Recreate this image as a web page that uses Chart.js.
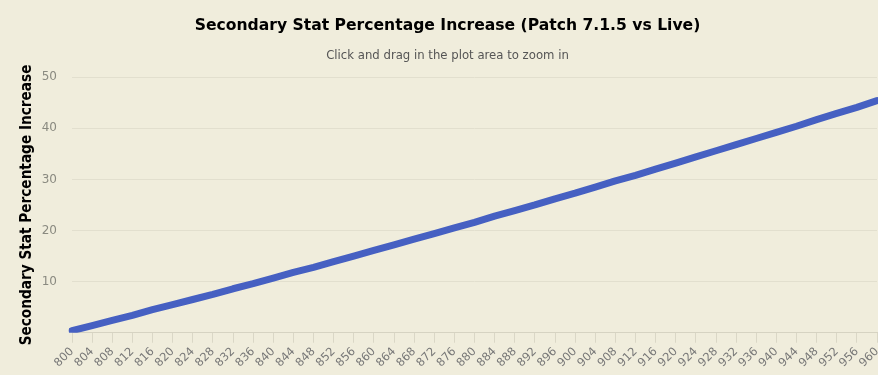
<!DOCTYPE html>
<html>
<head>
<meta charset="utf-8">
<script src="https://cdn.jsdelivr.net/npm/chart.js@4/dist/chart.umd.min.js"></script>
<style>
html,body{margin:0;padding:0;background:#f0eddc;}
#wrap{width:878px;height:375px;position:relative;}
</style>
</head>
<body>
<div id="wrap"><canvas id="c" width="878" height="375"></canvas></div>
<script>
// Item level categories (x axis tick labels)
const itemLevels = [800,804,808,812,816,820,824,828,832,836,840,844,848,852,856,860,864,868,872,876,880,884,888,892,896,900,904,908,912,916,920,924,928,932,936,940,944,948,952,956,960];
// Secondary stat percentage increase
const increasePct = [0.4,1.4,2.4,3.4,4.5,5.5,6.5,7.5,8.6,9.6,10.7,11.8,12.8,13.9,15.0,16.1,17.2,18.3,19.4,20.5,21.6,22.8,23.9,25.0,26.2,27.3,28.5,29.7,30.8,32.0,33.2,34.4,35.6,36.8,38.0,39.2,40.4,41.7,42.9,44.1,45.4];
// Y axis tick labels
const yTickValues = [10,20,30,40,50];

const titleText = 'Secondary Stat Percentage Increase (Patch 7.1.5 vs Live)';
const subtitleText = 'Click and drag in the plot area to zoom in';
const yTitleText = 'Secondary Stat Percentage Increase';

new Chart(document.getElementById('c'), {
  type: 'line',
  data: {
    labels: itemLevels.map(String),
    datasets: [{
      label: 'Increase',
      data: increasePct,
      borderColor: '#4660c2',
      backgroundColor: '#4660c2',
      borderWidth: 7,
      pointRadius: 0,
      tension: 0,
      borderCapStyle: 'round',
      borderJoinStyle: 'round',
      fill: false
    }]
  },
  options: {
    responsive: false,
    devicePixelRatio: 1,
    animation: false,
    layout: { padding: { left: 18, right: 1, top: 0, bottom: 3 } },
    plugins: {
      legend: { display: false },
      tooltip: { enabled: false },
      title: {
        display: true,
        text: titleText,
        color: '#000',
        font: { family: 'DejaVu Sans', size: 15.6, weight: 'bold' },
        padding: { top: 17, bottom: 13 }
      },
      subtitle: {
        display: true,
        text: subtitleText,
        color: '#555',
        font: { family: 'DejaVu Sans', size: 11.7 },
        padding: { top: 0, bottom: 14.4 }
      }
    },
    scales: {
      x: {
        type: 'category',
        offset: false,
        afterFit: (s) => { s.paddingRight = 0; s.paddingLeft = 0; },
        grid: { drawOnChartArea: false, drawTicks: true, tickLength: 10, color: '#dad7c6' },
        border: { display: true, color: '#d6d3c2', width: 1 },
        ticks: {
          autoSkip: false, minRotation: 45, maxRotation: 45,
          color: '#777', font: { family: 'DejaVu Sans', size: 11.5 }, padding: 2
        }
      },
      y: {
        min: 0, max: 50,
        afterBuildTicks: (axis) => { axis.ticks = [0].concat(yTickValues).map(v => ({ value: v })); },
        afterFit: (s) => { s.width = 54; },
        grid: { color: '#e2dfce', lineWidth: 1, drawTicks: false },
        border: { display: false },
        ticks: {
          color: '#8a8a80', font: { family: 'DejaVu Sans', size: 12 }, padding: 15,
          callback: (v) => (v === 0 ? '' : v)
        },
        title: {
          display: true, text: yTitleText, color: '#000',
          font: { family: 'DejaVu Sans Condensed', size: 15.2, weight: 'bold' },
          padding: { top: 0, bottom: 4 }
        }
      }
    }
  }
});
</script>
</body>
</html>
